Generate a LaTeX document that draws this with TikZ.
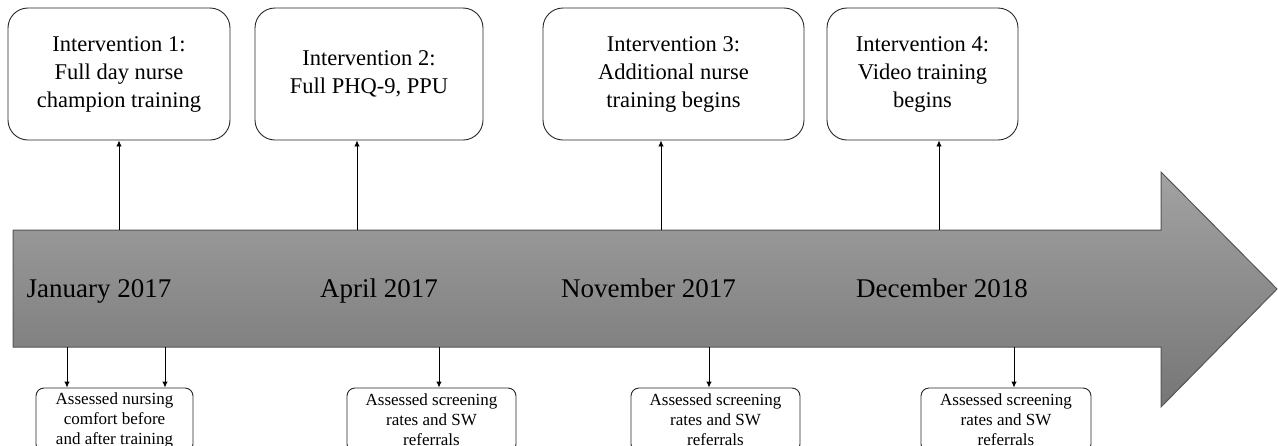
\documentclass[tikz,border=0pt]{standalone}
\usepackage{fontspec}
\setmainfont{Liberation Serif}
\usepackage{tikz}
\usetikzlibrary{shapes,arrows,arrows.meta,positioning}
\definecolor{flechaarriba}{HTML}{A2A2A2}
\definecolor{flechaabajo}{HTML}{767676}
\definecolor{borde}{HTML}{555555}
\tikzstyle{intervention} = [draw=black!85, line width=0.9pt, rounded corners=20pt, align=center, inner sep=2pt, font=\fontsize{22.5}{28}\selectfont]
\tikzstyle{assessment} = [draw=black!85, line width=0.9pt, rounded corners=8pt, align=center, inner sep=1pt, minimum height=64pt, font=\fontsize{17}{20}\selectfont]
\tikzstyle{datelabel} = [anchor=base, inner sep=0pt, font=\fontsize{27}{32}\selectfont]
\tikzstyle{conn} = [-{Latex[length=6pt,width=5.5pt]}, line width=0.9pt]

\begin{document}
\begin{tikzpicture}[x=1pt, y=-1pt]
\useasboundingbox (0,0) rectangle (1278,445);
% the time line
\shade[top color=flechaarriba, bottom color=flechaabajo, draw=borde, line width=1pt]
  (13,230) -- (1161,230) -- (1161,172) -- (1277,289) -- (1161,407) -- (1161,347) -- (13,347) -- cycle;
% interventions
\node[intervention, minimum width=222pt, minimum height=132pt] (int1) at (119,74) {Intervention 1:\\Full day nurse\\champion training};
\node[intervention, minimum width=228pt, minimum height=132pt] (int2) at (369,74) {Intervention 2:\\Full PHQ-9, PPU};
\node[intervention, minimum width=261pt, minimum height=132pt] (int3) at (673.5,74) {Intervention 3:\\Additional nurse\\training begins};
\node[intervention, minimum width=191pt, minimum height=132pt] (int4) at (922.5,74) {Intervention 4:\\Video training\\begins};
% dates
\node[datelabel] (jan17) at (99,297) {January 2017};
\node[datelabel] (apr17) at (379,297) {April 2017};
\node[datelabel] (nov17) at (648.5,297) {November 2017};
\node[datelabel] (dec18) at (942,297) {December 2018};
% assessments
\node[assessment, minimum width=157pt] (ass1) at (114.5,420) {Assessed nursing\\comfort before\\and after training};
\node[assessment, minimum width=169pt] (ass2) at (431.5,420) {Assessed screening\\rates and SW\\referrals};
\node[assessment, minimum width=169pt] (ass3) at (715.5,420) {Assessed screening\\rates and SW\\referrals};
\node[assessment, minimum width=170pt] (ass4) at (1006,420) {Assessed screening\\rates and SW\\referrals};
% points on the time line
\coordinate (up1) at (119,230);
\coordinate (up2) at (357,230);
\coordinate (up3) at (661,230);
\coordinate (up4) at (939,230);
\coordinate (dn1a) at (67,347);
\coordinate (dn1b) at (165,347);
\coordinate (dn2) at (439,347);
\coordinate (dn3) at (709,347);
\coordinate (dn4) at (1014,347);
% connectors
\draw[conn] (up1) -- (up1 |- int1.south);
\draw[conn] (up2) -- (up2 |- int2.south);
\draw[conn] (up3) -- (up3 |- int3.south);
\draw[conn] (up4) -- (up4 |- int4.south);
\draw[conn] (dn1a) -- (dn1a |- ass1.north);
\draw[conn] (dn1b) -- (dn1b |- ass1.north);
\draw[conn] (dn2) -- (dn2 |- ass2.north);
\draw[conn] (dn3) -- (dn3 |- ass3.north);
\draw[conn] (dn4) -- (dn4 |- ass4.north);
\end{tikzpicture}
\end{document}
